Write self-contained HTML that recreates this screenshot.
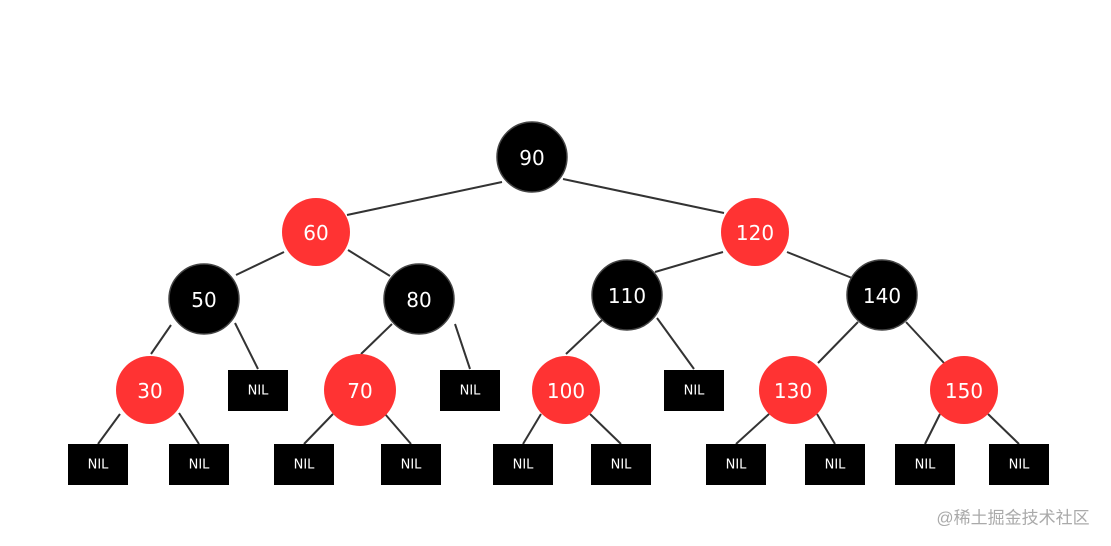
<!DOCTYPE html>
<html><head><meta charset="utf-8"><style>
html,body{margin:0;padding:0;background:#fff;}
svg{display:block;}
text{font-family:"DejaVu Sans","Liberation Sans",sans-serif;fill:#fff;text-anchor:middle;dominant-baseline:central;}
</style></head><body>
<svg width="1111" height="546" viewBox="0 0 1111 546" xmlns="http://www.w3.org/2000/svg">
<g stroke="#333" stroke-width="2">
<line x1="502" y1="182" x2="347" y2="215"/>
<line x1="563" y1="179" x2="724" y2="213"/>
<line x1="284" y1="252" x2="236" y2="275"/>
<line x1="348" y1="250" x2="390" y2="276"/>
<line x1="723" y1="252" x2="655" y2="272"/>
<line x1="787" y1="252" x2="852" y2="278"/>
<line x1="171" y1="325" x2="151" y2="354"/>
<line x1="235" y1="323" x2="258" y2="369"/>
<line x1="392" y1="324" x2="361" y2="354"/>
<line x1="455" y1="324" x2="470" y2="369"/>
<line x1="602" y1="320" x2="566" y2="354"/>
<line x1="657" y1="318" x2="694" y2="369"/>
<line x1="858" y1="322" x2="818" y2="363"/>
<line x1="906" y1="322" x2="944" y2="363"/>
<line x1="120" y1="414" x2="98" y2="444"/>
<line x1="179" y1="413" x2="199" y2="444"/>
<line x1="333" y1="414" x2="304" y2="444"/>
<line x1="385" y1="414" x2="411" y2="444"/>
<line x1="541" y1="414" x2="523" y2="444"/>
<line x1="590" y1="414" x2="621" y2="444"/>
<line x1="769" y1="414" x2="736" y2="444"/>
<line x1="817" y1="414" x2="835" y2="444"/>
<line x1="940" y1="414" x2="925" y2="444"/>
<line x1="988" y1="414" x2="1019" y2="444"/>
</g>
<g stroke="#444" stroke-width="1.5" fill="#000">
<circle cx="532" cy="157" r="35"/>
<circle cx="204" cy="299" r="35"/>
<circle cx="419" cy="299" r="35"/>
<circle cx="627" cy="295" r="35"/>
<circle cx="882" cy="295" r="35"/>
</g>
<g fill="#ff3333">
<circle cx="316" cy="232" r="34"/>
<circle cx="755" cy="232" r="34"/>
<circle cx="150" cy="390" r="34"/>
<circle cx="360" cy="390" r="36"/>
<circle cx="566" cy="390" r="34"/>
<circle cx="793" cy="390" r="34"/>
<circle cx="964" cy="390" r="34"/>
</g>
<g font-size="20">
<text x="532" y="158">90</text>
<text x="316" y="233">60</text>
<text x="755" y="233">120</text>
<text x="204" y="300">50</text>
<text x="419" y="300">80</text>
<text x="627" y="296">110</text>
<text x="882" y="296">140</text>
<text x="150" y="391">30</text>
<text x="360" y="391">70</text>
<text x="566" y="391">100</text>
<text x="793" y="391">130</text>
<text x="964" y="391">150</text>
</g>
<g fill="#000">
<rect x="228" y="370" width="60" height="41"/>
<rect x="440" y="370" width="60" height="41"/>
<rect x="664" y="370" width="60" height="41"/>
<rect x="68" y="444" width="60" height="41"/>
<rect x="169" y="444" width="60" height="41"/>
<rect x="274" y="444" width="60" height="41"/>
<rect x="381" y="444" width="60" height="41"/>
<rect x="493" y="444" width="60" height="41"/>
<rect x="591" y="444" width="60" height="41"/>
<rect x="706" y="444" width="60" height="41"/>
<rect x="805" y="444" width="60" height="41"/>
<rect x="895" y="444" width="60" height="41"/>
<rect x="989" y="444" width="60" height="41"/>
</g>
<g font-size="13">
<text x="258" y="391">NIL</text>
<text x="470" y="391">NIL</text>
<text x="694" y="391">NIL</text>
<text x="98" y="465">NIL</text>
<text x="199" y="465">NIL</text>
<text x="304" y="465">NIL</text>
<text x="411" y="465">NIL</text>
<text x="523" y="465">NIL</text>
<text x="621" y="465">NIL</text>
<text x="736" y="465">NIL</text>
<text x="835" y="465">NIL</text>
<text x="925" y="465">NIL</text>
<text x="1019" y="465">NIL</text>
</g>
<text x="1013" y="518" font-size="17" style="fill:#aaa;font-family:'Liberation Sans','Noto Sans CJK SC',sans-serif">@稀土掘金技术社区</text>
</svg>
</body></html>
